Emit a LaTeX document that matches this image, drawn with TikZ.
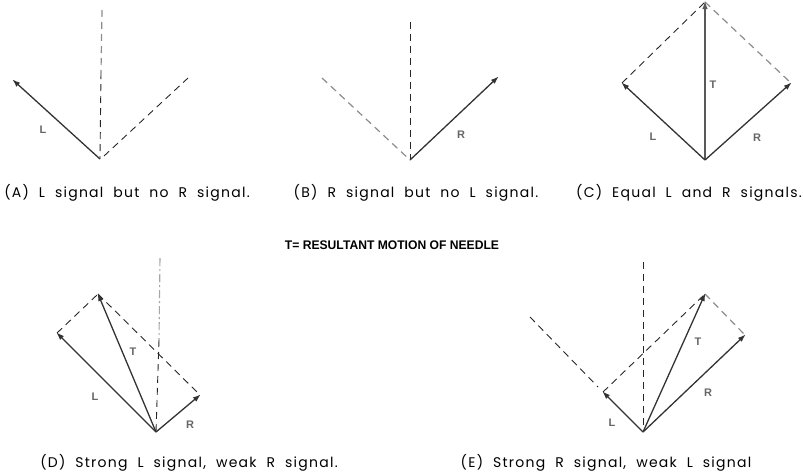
\documentclass[tikz,border=0pt]{standalone}
\usepackage{fontspec}
\usepackage{graphicx}
\setmainfont{Poppins}
\newfontfamily\capfont{Poppins}[LetterSpace=9,WordSpace=2.0]
\newfontfamily\labfont{Liberation Sans}
\usetikzlibrary{arrows.meta}
\tikzset{
  vec/.style={line width=1.3pt, draw=black!80, -{Latex[length=8pt,width=5.5pt]}, shorten >=-1pt},
  dsh/.style={line width=0.9pt, draw=black!85, dash pattern=on 7pt off 5pt},
  gdsh/.style={line width=1.2pt, draw=black!45, dash pattern=on 7pt off 5pt},
  lab/.style={font=\labfont\bfseries\fontsize{11}{11}\selectfont, text=black!60, inner sep=0pt},
  captext/.style={font=\capfont\fontsize{14}{16}\selectfont, inner sep=0pt, anchor=base},
}
\begin{document}
\begin{tikzpicture}[x=1pt,y=-1pt]
\useasboundingbox (0,0) rectangle (803,475);
% ---------- Panel A ----------
\coordinate (Ao) at (100,159);
\coordinate (AL) at (13,80);
\coordinate (Atop) at (102,10);
\coordinate (Amid) at (101,72);
\coordinate (Ar) at (188,78);
\coordinate (Ars) at (104,156);
\draw[gdsh] (Atop) -- (Amid);
\draw[dsh] (Amid) -- (Ao);
\draw[dsh] (Ars) -- (Ar);
\draw[vec] (Ao) -- (AL);
\node[lab] (ALl) at (43,130) {L};
\node[captext] (Acap) at (127,197) {(A) L signal but no R signal.};
% ---------- Panel B ----------
\coordinate (Bo) at (410,160);
\coordinate (Btop) at (410,22);
\coordinate (Bl) at (322,78);
\coordinate (BR) at (498,77);
\draw[dsh] (Btop) -- (Bo);
\draw[gdsh] (Bl) -- (Bo);
\draw[vec] (Bo) -- (BR);
\node[lab] (BRl) at (461,135) {R};
\node[captext] (Bcap) at (416,197) {(B) R signal but no L signal.};
% ---------- Caption T ----------
\node[inner sep=0pt] (Tnote) at (392,245) {\scalebox{0.97}[1]{\labfont\bfseries\fontsize{12.5}{12.5}\selectfont T= RESULTANT MOTION OF NEEDLE}};
% ---------- Panel C ----------
\coordinate (Co) at (705,160);
\coordinate (CT) at (705,2);
\coordinate (CL) at (622,83);
\coordinate (CR) at (791,83);
\draw[dsh] (CL) -- (CT);
\draw[gdsh] (CT) -- (CR);
\draw[vec, draw=black!65] (Co) -- (CT);
\draw[vec] (Co) -- (CL);
\draw[vec] (Co) -- (CR);
\node[lab] (CLl) at (653,137) {L};
\node[lab] (CTl) at (713,85) {T};
\node[lab] (CRl) at (757,138) {R};
\node[captext] (Ccap) at (689,197) {(C) Equal L and R signals.};
% ---------- Panel D ----------
\coordinate (Do) at (156,432);
\coordinate (DL) at (57,333);
\coordinate (DT) at (98,294);
\coordinate (DR) at (200,395);
\coordinate (Dtop) at (160,258);
\coordinate (Dmid) at (159,340);
\draw[line width=1.1pt, draw=black!35, dash pattern=on 8pt off 3pt on 2pt off 3pt] (Dtop) -- (Dmid);
\draw[dsh] (Dmid) -- (Do);
\draw[dsh] (DL) -- (DT);
\draw[dsh] (DT) -- (DR);
\draw[vec] (Do) -- (DL);
\draw[vec] (Do) -- (DT);
\draw[vec] (Do) -- (DR);
\node[lab] (DLl) at (95,397) {L};
\node[lab] (DTl) at (133,352) {T};
\node[lab] (DRl) at (190,425) {R};
\node[captext] (Dcap) at (189,467) {(D) Strong L signal, weak R signal.};
% ---------- Panel E ----------
\coordinate (Eo) at (643,432);
\coordinate (EL) at (603,392);
\coordinate (ET) at (705,294);
\coordinate (ER) at (745,335);
\coordinate (Etop) at (643,262);
\coordinate (Efar) at (530,317);
\coordinate (Enear) at (598,387);
\draw[dsh] (Etop) -- (Eo);
\draw[dsh] (Efar) -- (Enear);
\draw[dsh] (EL) -- (ET);
\draw[gdsh] (ET) -- (ER);
\draw[vec] (Eo) -- (EL);
\draw[vec] (Eo) -- (ET);
\draw[vec] (Eo) -- (ER);
\node[lab] (ELl) at (612,423) {L};
\node[lab] (ETl) at (698,342) {T};
\node[lab] (ERl) at (708,393) {R};
\node[captext] (Ecap) at (606,467) {(E) Strong R signal, weak L signal};
\end{tikzpicture}
\end{document}
